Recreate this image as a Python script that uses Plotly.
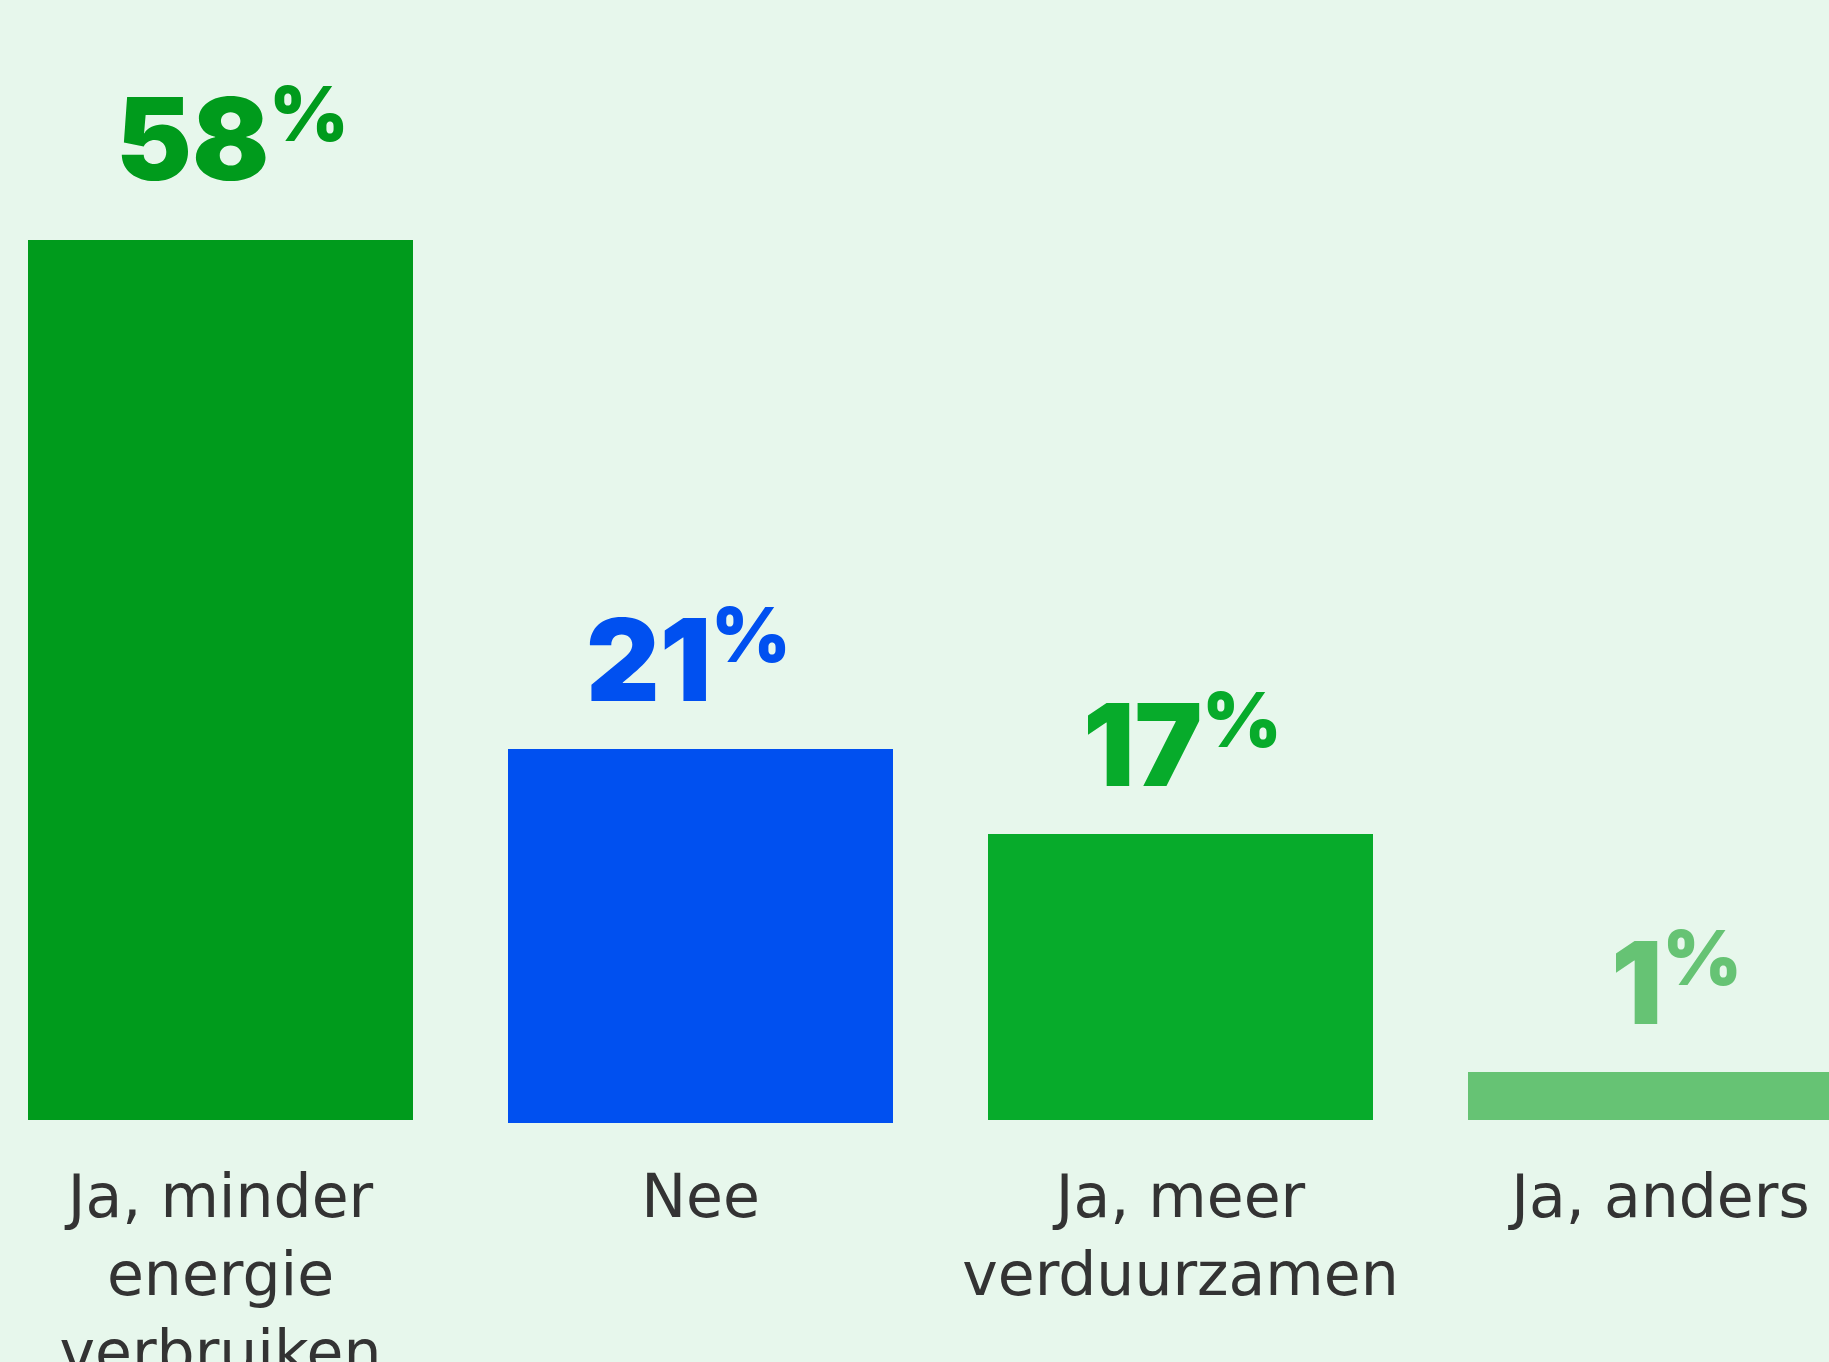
import plotly.graph_objects as go

categories = ["Ja, minder<br>energie<br>verbruiken", "Nee", "Ja, meer<br>verduurzamen", "Ja, anders"]
label_values = [58, 21, 17, 1]
bar_heights = [58, 24.65, 18.85, 3.16]
bar_bases = [0, -0.2, 0, 0]
colors = ["#009B1C", "#0050F0", "#07AB2B", "#66C374"]

# label placement tweaks (pixels)
label_xshift = [12, -12, 2, 16]
label_yshift = [31, 19, 19, 19]

W, H = 1829, 1362
BG = "#E7F7EC"
px_per_unit = 880 / 58.0
bottom_px = 1123
zero_px = 1120
y_min = -(bottom_px - zero_px) / px_per_unit
y_max = zero_px / px_per_unit

x_positions = list(range(len(categories)))

fig = go.Figure()
fig.add_trace(go.Bar(
    x=x_positions,
    y=bar_heights,
    base=bar_bases,
    width=385 / 480,
    marker=dict(color=colors, line=dict(width=0)),
    hoverinfo="skip",
))

for i, (v, h, b, c) in enumerate(zip(label_values, bar_heights, bar_bases, colors)):
    fig.add_annotation(
        x=i, y=h + b, xref="x", yref="y",
        text=(f"<span style='font-size:114px'>{v}</span>"
              f"<sup><span style='font-size:76px'>%</span></sup>"),
        showarrow=False,
        xanchor="center", yanchor="bottom",
        xshift=label_xshift[i], yshift=label_yshift[i],
        font=dict(family="Inter", size=94, color=c, weight=900),
    )

x0 = -220.5 / 480
fig.update_layout(
    width=W, height=H,
    paper_bgcolor=BG, plot_bgcolor=BG,
    margin=dict(l=0, r=0, t=0, b=H - bottom_px, pad=0, autoexpand=False),
    showlegend=False,
    xaxis=dict(
        range=[x0, x0 + W / 480],
        tickmode="array",
        tickvals=x_positions,
        ticktext=categories,
        showgrid=False, zeroline=False, showline=False,
        ticks="", ticklabelstandoff=33,
        automargin=False,
        tickfont=dict(family="DejaVu Sans", size=60, color="#333333"),
        fixedrange=True,
    ),
    yaxis=dict(
        range=[y_min, y_max],
        visible=False,
        automargin=False,
        fixedrange=True,
    ),
)

fig.write_html(
    "out.html",
    config={"displayModeBar": False},
    post_script="document.body.style.margin='0';document.body.style.padding='0';document.body.style.overflow='hidden';",
)
